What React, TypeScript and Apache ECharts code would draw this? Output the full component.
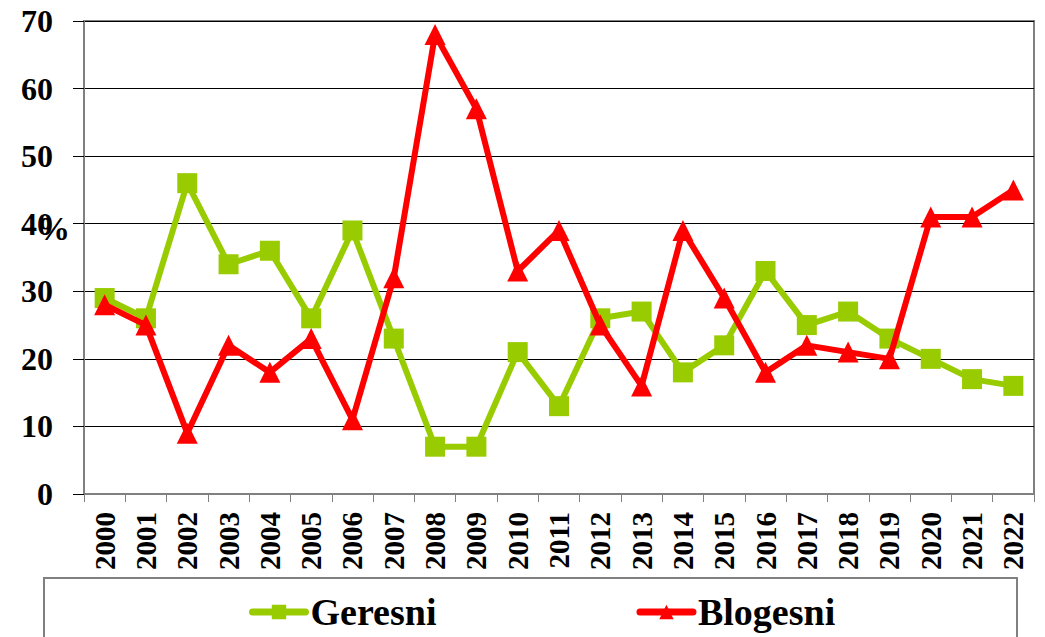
import React, { useEffect, useRef } from "react";
import * as echarts from "echarts";

const years = ["2000","2001","2002","2003","2004","2005","2006","2007","2008","2009","2010","2011","2012","2013","2014","2015","2016","2017","2018","2019","2020","2021","2022"];
const geresni = [29, 26, 46, 34, 36, 26, 39, 23, 7, 7, 21, 13, 26, 27, 18, 22, 33, 25, 27, 23, 20, 17, 16];
const blogesni = [28, 25, 9, 22, 18, 23, 11, 32, 68, 57, 33, 39, 25, 16, 39, 29, 18, 22, 21, 20, 41, 41, 45];
const yTicks = { min: 0, max: 70, interval: 10 };

const FONT = "Liberation Serif";

export default function App() {
  const ref = useRef<HTMLDivElement>(null);
  useEffect(() => {
    if (!ref.current) return;
    document.body.style.margin = "0";
    const chart = echarts.init(ref.current, null, { renderer: "svg" });
    chart.setOption({
      animation: false,
      grid: {
        left: 84,
        right: 11,
        top: 21,
        bottom: 143,
        show: true,
        borderColor: "#808080",
        borderWidth: 2,
      },
      xAxis: {
        type: "category",
        data: years,
        boundaryGap: true,
        axisLine: { lineStyle: { color: "#808080", width: 2 } },
        axisTick: { show: true, length: 8, lineStyle: { color: "#808080", width: 1 } },
        axisLabel: {
          interval: 0,
          rotate: 90,
          margin: 18,
          color: "#000",
          fontFamily: FONT,
          fontWeight: "bold",
          fontSize: 29,
        },
      },
      yAxis: {
        type: "value",
        min: yTicks.min,
        max: yTicks.max,
        interval: yTicks.interval,
        axisLine: { show: true, lineStyle: { color: "#808080", width: 2 } },
        axisTick: { show: true, length: 11, lineStyle: { color: "#000", width: 1 } },
        splitLine: { show: true, lineStyle: { color: "#000", width: 1 } },
        axisLabel: {
          margin: 31,
          color: "#000",
          fontFamily: FONT,
          fontWeight: "bold",
          fontSize: 32,
        },
      },
      legend: {
        left: 244,
        top: 588,
        itemGap: 200,
        itemWidth: 53,
        itemHeight: 18,
        lineStyle: { width: 7, cap: "round" },
        textStyle: {
          color: "#000",
          fontFamily: FONT,
          fontWeight: "bold",
          fontSize: 38,
        },
        data: ["Geresni", "Blogesni"],
      },
      graphic: [
        {
          type: "rect",
          shape: { x: 44, y: 578, width: 973, height: 80 },
          style: { fill: "none", stroke: "#808080", lineWidth: 2 },
          silent: true,
        },
        {
          type: "text",
          x: 37,
          y: 212,
          style: {
            text: "%",
            fill: "#000",
            fontFamily: FONT,
            fontWeight: "bold",
            fontSize: 33,
          },
          z: 10,
        },
      ],
      series: [
        {
          name: "Geresni",
          type: "line",
          data: geresni,
          symbol: "rect",
          symbolSize: 20,
          lineStyle: { color: "#99CC00", width: 6 },
          itemStyle: { color: "#99CC00" },
          z: 2,
        },
        {
          name: "Blogesni",
          type: "line",
          data: blogesni,
          symbol: "triangle",
          symbolSize: 21,
          lineStyle: { color: "#FF0000", width: 6 },
          itemStyle: { color: "#FF0000" },
          z: 3,
        },
      ],
    });
    return () => chart.dispose();
  }, []);
  return <div ref={ref} style={{ width: 1045, height: 637 }} />;
}
